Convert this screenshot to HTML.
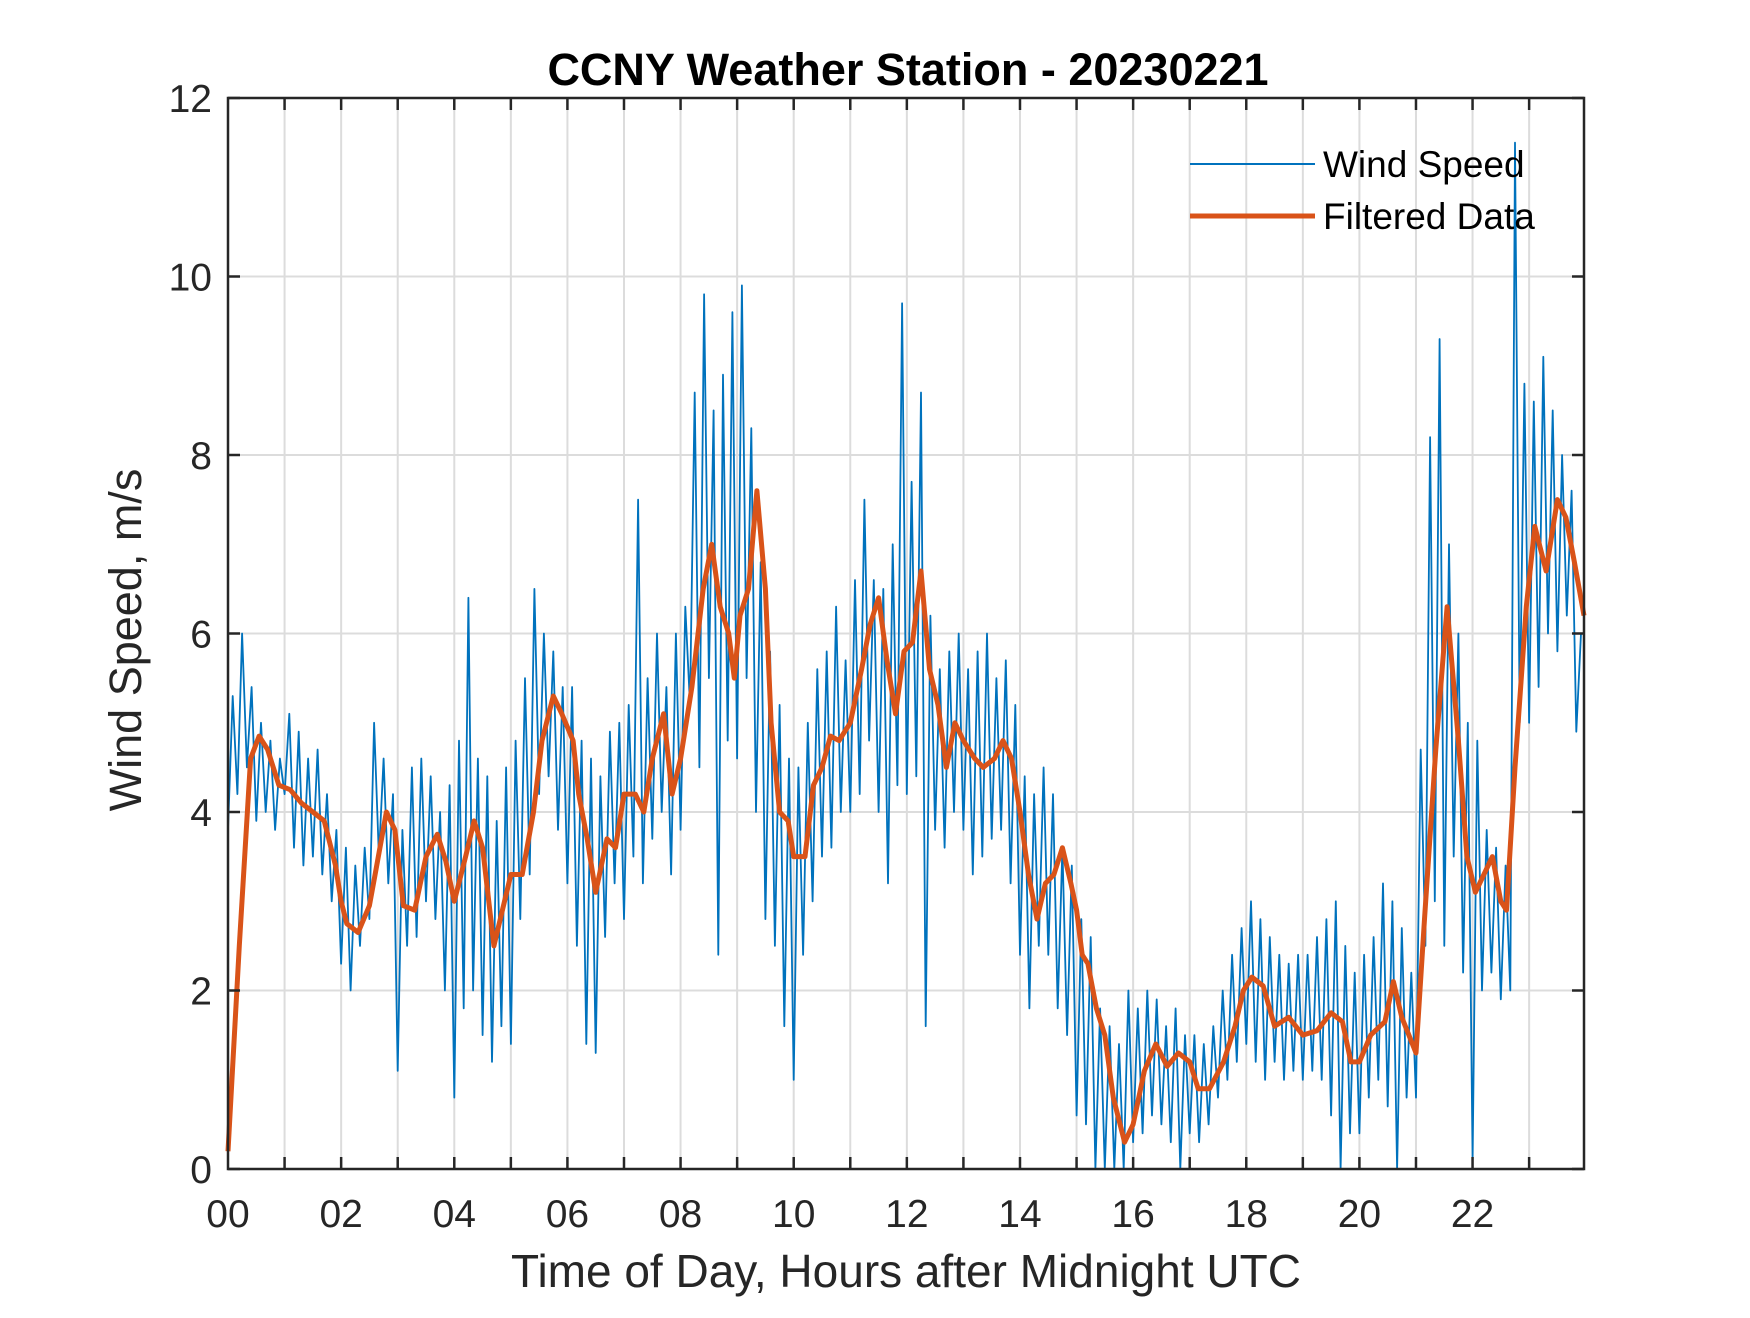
<!DOCTYPE html>
<html><head><meta charset="utf-8"><style>
html,body{margin:0;padding:0;background:#fff;}
svg text{font-family:"Liberation Sans",Arial,sans-serif;fill:#262626;}
</style></head><body>
<svg id="chart" width="1750" height="1313" viewBox="0 0 1750 1313" xmlns="http://www.w3.org/2000/svg">
<rect width="1750" height="1313" fill="#fff"/>
<g id="grid"></g>
<g id="series"></g>
<g id="axes"></g>
<text x="908" y="85" text-anchor="middle" font-size="45" font-weight="bold" style="fill:#000">CCNY Weather Station - 20230221</text>
<text x="906" y="1287" text-anchor="middle" font-size="46">Time of Day, Hours after Midnight UTC</text>
<text transform="translate(141,640) rotate(-90)" text-anchor="middle" font-size="45">Wind Speed, m/s</text>
<g>
<line x1="1190" y1="164" x2="1315" y2="164" stroke="#0072BD" stroke-width="2"/>
<text x="1323" y="177" font-size="37" style="fill:#000">Wind Speed</text>
<line x1="1190" y1="216" x2="1315" y2="216" stroke="#D95319" stroke-width="5"/>
<text x="1323" y="229" font-size="37" style="fill:#000">Filtered Data</text>
</g>
</svg>
<script>
const xTickLabels=["00","02","04","06","08","10","12","14","16","18","20","22"];
const yTickLabels=[0,2,4,6,8,10,12];
const windSpeed=[
3.8,5.3,4.2,6.0,4.5,5.4,3.9,5.0,4.0,4.8,3.8,4.6,
4.2,5.1,3.6,4.9,3.4,4.6,3.5,4.7,3.3,4.2,3.0,3.8,
2.3,3.6,2.0,3.4,2.5,3.6,2.8,5.0,3.5,4.6,3.2,4.2,
1.1,3.8,2.5,4.5,2.6,4.6,3.0,4.4,2.8,4.0,2.0,4.3,
0.8,4.8,1.8,6.4,2.0,4.6,1.5,4.4,1.2,3.9,1.6,4.5,
1.4,4.8,2.8,5.5,3.3,6.5,4.2,6.0,4.4,5.8,3.8,5.4,
3.2,5.4,2.5,4.8,1.4,4.6,1.3,4.4,2.6,4.9,3.2,5.0,
2.8,5.2,3.5,7.5,3.2,5.5,3.7,6.0,4.0,5.4,3.3,6.0,
3.8,6.3,5.2,8.7,4.5,9.8,5.5,8.5,2.4,8.9,4.8,9.6,
4.6,9.9,5.5,8.3,4.0,6.8,2.8,5.8,2.5,5.2,1.6,4.6,
1.0,4.5,2.4,5.0,3.0,5.6,3.5,5.8,3.6,6.3,4.0,5.7,
4.0,6.6,4.2,7.5,4.8,6.6,4.0,6.5,3.2,7.0,4.3,9.7,
4.2,7.7,4.4,8.7,1.6,6.2,3.8,5.6,3.6,5.8,4.0,6.0,
3.8,5.6,3.3,5.8,3.5,6.0,3.7,5.5,3.8,5.7,3.2,5.2,
2.4,4.4,1.8,4.2,2.5,4.5,2.4,4.2,1.8,3.6,1.5,3.4,
0.6,2.8,0.5,2.6,0.0,1.8,0.0,1.6,0.0,1.4,0.0,2.0,
0.3,1.8,0.4,2.0,0.6,1.9,0.5,1.6,0.3,1.8,0.0,1.5,
0.4,1.5,0.3,1.4,0.5,1.6,0.8,2.0,1.0,2.4,1.2,2.7,
1.4,3.0,1.2,2.8,1.0,2.6,1.2,2.4,1.0,2.3,1.1,2.4,
1.0,2.4,1.1,2.6,1.0,2.8,0.6,3.0,0.0,2.5,0.4,2.2,
0.4,2.4,0.8,2.6,1.0,3.2,0.7,3.0,0.0,2.7,0.8,2.2,
0.8,4.7,2.5,8.2,3.0,9.3,2.5,7.0,3.5,6.0,2.2,5.0,
0.1,4.8,2.0,3.8,2.2,3.6,1.9,3.4,2.0,11.5,5.0,8.8,
5.0,8.6,5.4,9.1,6.0,8.5,5.8,8.0,6.2,7.6,4.9,6.0];
const filtHours=[0,0.2,0.4,0.55,0.7,0.9,1.1,1.3,1.5,1.7,1.9,2.0,2.1,2.3,2.5,2.6,2.8,2.95,3.1,3.3,3.5,3.7,3.85,4.0,4.2,4.35,4.5,4.7,4.85,5.0,5.2,5.4,5.55,5.75,5.9,6.1,6.2,6.35,6.5,6.7,6.85,7.0,7.2,7.35,7.5,7.7,7.85,8.0,8.2,8.4,8.55,8.7,8.85,8.95,9.05,9.2,9.35,9.5,9.6,9.75,9.9,10.0,10.2,10.35,10.5,10.65,10.8,11.0,11.2,11.35,11.5,11.65,11.8,11.95,12.1,12.25,12.4,12.55,12.7,12.85,13.0,13.2,13.35,13.55,13.7,13.85,14.0,14.15,14.3,14.45,14.6,14.75,14.9,15.0,15.1,15.2,15.35,15.5,15.65,15.85,16.0,16.2,16.4,16.6,16.8,17.0,17.15,17.35,17.6,17.8,17.95,18.1,18.3,18.5,18.75,19.0,19.25,19.5,19.7,19.85,20.0,20.2,20.45,20.6,20.75,21.0,21.15,21.35,21.55,21.75,21.9,22.05,22.2,22.35,22.5,22.6,22.75,22.95,23.1,23.3,23.5,23.65,23.8,23.97];
const filtVals=[0.2,2.5,4.6,4.85,4.7,4.3,4.25,4.1,4.0,3.9,3.4,3.0,2.75,2.65,2.95,3.3,4.0,3.8,2.95,2.9,3.5,3.75,3.45,3.0,3.5,3.9,3.6,2.5,2.9,3.3,3.3,4.0,4.8,5.3,5.1,4.8,4.2,3.7,3.1,3.7,3.6,4.2,4.2,4.0,4.6,5.1,4.2,4.6,5.4,6.5,7.0,6.3,6.0,5.5,6.2,6.5,7.6,6.5,5.0,4.0,3.9,3.5,3.5,4.3,4.5,4.85,4.8,5.0,5.6,6.1,6.4,5.7,5.1,5.8,5.9,6.7,5.6,5.2,4.5,5.0,4.8,4.6,4.5,4.6,4.8,4.6,4.0,3.3,2.8,3.2,3.3,3.6,3.2,2.9,2.4,2.3,1.8,1.5,0.8,0.3,0.5,1.1,1.4,1.15,1.3,1.2,0.9,0.9,1.2,1.6,2.0,2.15,2.05,1.6,1.7,1.5,1.55,1.75,1.65,1.2,1.2,1.5,1.65,2.1,1.7,1.3,2.8,4.7,6.3,4.8,3.5,3.1,3.3,3.5,3.0,2.9,4.5,6.3,7.2,6.7,7.5,7.3,6.8,6.2];

const L=228,R=1584,T=98,B=1169,XMAX=23.97;
function xs(h){return L+h/XMAX*(R-L);}
function ys(v){return B-v/12*(B-T);}
const NS="http://www.w3.org/2000/svg";
function mk(t,a,p){const e=document.createElementNS(NS,t);for(const k in a)e.setAttribute(k,a[k]);p.appendChild(e);return e;}
const grid=document.getElementById('grid'),axes=document.getElementById('axes'),series=document.getElementById('series');
for(let h=1;h<24;h++){
  const l=mk('line',{x1:xs(h),x2:xs(h),y1:T,y2:B,stroke:'#dcdcdc','stroke-width':2},grid);
  
  
}
yTickLabels.forEach(v=>{
  if(v>0&&v<12){const l=mk('line',{x1:L,x2:R,y1:ys(v),y2:ys(v),stroke:'#dcdcdc','stroke-width':2},grid);
  
  }
  const t=mk('text',{x:L-16,y:ys(v)+14,'text-anchor':'end','font-size':39},axes);
  t.textContent=v;
  
  
  mk('line',{x1:L,x2:L+12,y1:ys(v),y2:ys(v),stroke:'#262626','stroke-width':2.5},axes);
  mk('line',{x1:R,x2:R-12,y1:ys(v),y2:ys(v),stroke:'#262626','stroke-width':2.5},axes);
});
xTickLabels.forEach((s,i)=>{
  const t=mk('text',{x:xs(i*2),y:1227,'text-anchor':'middle','font-size':39},axes);
  t.textContent=s;
  
  
});
for(let h=1;h<24;h++){
  mk('line',{x1:xs(h),x2:xs(h),y1:B,y2:B-12,stroke:'#262626','stroke-width':2.5},axes);
  mk('line',{x1:xs(h),x2:xs(h),y1:T,y2:T+12,stroke:'#262626','stroke-width':2.5},axes);
}
const box=mk('rect',{x:L,y:T,width:R-L,height:B-T,fill:'none',stroke:'#262626','stroke-width':2.5},axes);


let d='';
windSpeed.forEach((v,i)=>{d+=(i?'L':'M')+xs(i/12).toFixed(1)+','+ys(v).toFixed(1);});
const ws=mk('path',{d:d,fill:'none',stroke:'#0072BD','stroke-width':1.8,'stroke-linejoin':'round'},series);


let d2='';
filtVals.forEach((v,i)=>{d2+=(i?'L':'M')+xs(filtHours[i]).toFixed(1)+','+ys(v).toFixed(1);});
const fl=mk('path',{d:d2,fill:'none',stroke:'#D95319','stroke-width':5,'stroke-linejoin':'round'},series);


</script>
</body></html>
